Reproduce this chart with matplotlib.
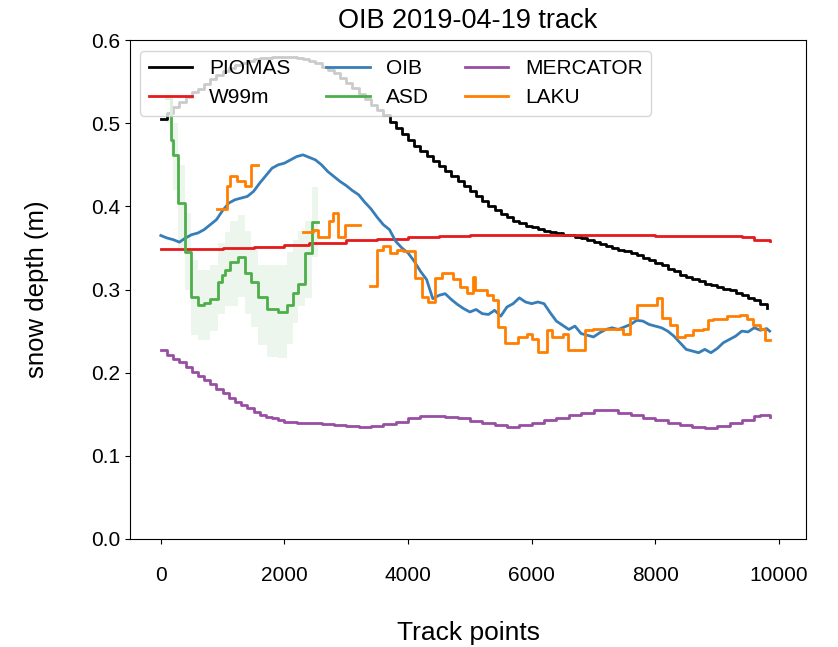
import numpy as np
from matplotlib import pyplot as plt

plt.rcParams['font.family'] = ['Liberation Sans', 'DejaVu Sans']

# PIOMAS (stepped model output along track)
piomas_x = np.arange(0, 9900, 100)
piomas_y = [0.505, 0.512, 0.520, 0.526, 0.532, 0.537, 0.541, 0.547, 0.553, 0.558,
            0.563, 0.567, 0.570, 0.573, 0.575, 0.577, 0.578, 0.579, 0.580, 0.580,
            0.580, 0.580, 0.579, 0.577, 0.575, 0.572, 0.568, 0.564, 0.560, 0.554,
            0.548, 0.542, 0.535, 0.529, 0.522, 0.516, 0.510, 0.502, 0.494, 0.487,
            0.480, 0.473, 0.467, 0.461, 0.455, 0.449, 0.443, 0.436, 0.430, 0.424,
            0.418, 0.412, 0.406, 0.401, 0.396, 0.391, 0.387, 0.383, 0.380, 0.377,
            0.375, 0.373, 0.371, 0.369, 0.368, 0.366, 0.365, 0.363, 0.362, 0.359,
            0.357, 0.355, 0.352, 0.350, 0.348, 0.346, 0.344, 0.341, 0.338, 0.335,
            0.332, 0.329, 0.325, 0.322, 0.318, 0.315, 0.313, 0.310, 0.307, 0.305,
            0.303, 0.301, 0.299, 0.296, 0.293, 0.290, 0.287, 0.283, 0.278]

w99_x = [0, 500, 1000, 1500, 2000, 2400, 3000, 3500, 4000, 4500, 5000, 5500,
         6000, 6500, 7000, 7500, 8000, 8500, 9000, 9400, 9600, 9850]
w99_y = [0.349, 0.349, 0.350, 0.351, 0.353, 0.356, 0.359, 0.361, 0.363, 0.364,
         0.365, 0.366, 0.366, 0.366, 0.365, 0.365, 0.364, 0.364, 0.364, 0.363,
         0.360, 0.358]

oib_x = list(range(0, 9900, 100)) + [9850]
oib_y = [0.365, 0.362, 0.360, 0.357, 0.362, 0.366, 0.368, 0.372, 0.378, 0.384,
         0.395, 0.404, 0.408, 0.410, 0.412, 0.418, 0.428, 0.437, 0.446, 0.450,
         0.452, 0.456, 0.460, 0.462, 0.459, 0.456, 0.450, 0.442, 0.436, 0.430,
         0.425, 0.419, 0.414, 0.405, 0.397, 0.387, 0.378, 0.372, 0.358, 0.350,
         0.344, 0.334, 0.322, 0.312, 0.289, 0.293, 0.295, 0.288, 0.282, 0.277,
         0.273, 0.276, 0.271, 0.270, 0.275, 0.268, 0.279, 0.283, 0.290, 0.285,
         0.283, 0.285, 0.283, 0.272, 0.262, 0.257, 0.252, 0.256, 0.247, 0.245,
         0.243, 0.248, 0.252, 0.254, 0.252, 0.255, 0.258, 0.263, 0.262, 0.258,
         0.256, 0.254, 0.250, 0.244, 0.236, 0.228, 0.226, 0.224, 0.228, 0.224,
         0.229, 0.236, 0.240, 0.244, 0.250, 0.249, 0.254, 0.251, 0.253, 0.250]

asd_x = [80, 157, 200, 281, 388, 496, 604, 700, 793, 928, 990, 1036, 1117, 1251,
         1359, 1467, 1575, 1710, 1898, 2034, 2141, 2222, 2330, 2438, 2545]
asd_y = [0.530, 0.480, 0.462, 0.404, 0.345, 0.291, 0.281, 0.284, 0.289, 0.309,
         0.318, 0.323, 0.333, 0.339, 0.320, 0.309, 0.291, 0.277, 0.273, 0.281,
         0.296, 0.307, 0.344, 0.381, 0.381]
asd_lo = [0.500, 0.460, 0.420, 0.350, 0.300, 0.245, 0.239, 0.239, 0.250, 0.270,
          0.270, 0.280, 0.280, 0.291, 0.270, 0.255, 0.233, 0.219, 0.218, 0.235,
          0.260, 0.280, 0.290, 0.339, 0.339]
asd_hi = [0.545, 0.540, 0.500, 0.450, 0.392, 0.335, 0.323, 0.323, 0.330, 0.356,
          0.356, 0.369, 0.383, 0.390, 0.370, 0.350, 0.330, 0.330, 0.330, 0.345,
          0.360, 0.370, 0.383, 0.423, 0.423]

merc_x = list(range(0, 2100, 100)) + list(range(2200, 9700, 200)) + [9700, 9850]
merc_y = [0.227, 0.221, 0.217, 0.213, 0.207, 0.201, 0.196, 0.191, 0.186, 0.180,
          0.175, 0.170, 0.165, 0.161, 0.157, 0.153, 0.149, 0.147, 0.145, 0.143,
          0.141,
          0.140, 0.139, 0.138, 0.137, 0.136, 0.135, 0.136, 0.138, 0.141, 0.145,
          0.148, 0.148, 0.147, 0.145, 0.142, 0.140, 0.137, 0.135, 0.137, 0.140,
          0.143, 0.146, 0.149, 0.152, 0.155, 0.155, 0.152, 0.149, 0.146, 0.143,
          0.140, 0.137, 0.135, 0.134, 0.136, 0.139, 0.143, 0.148,
          0.149, 0.147]

nan = np.nan
laku_x = [911, 1063, 1117, 1225, 1359, 1467, 1575,
          2303, 2465, 2545, 2724, 2789, 2870, 2977, 3220,
          3382, 3490, 3598, 3706, 3814, 3921, 4110, 4218, 4326, 4434, 4542, 4730,
          4838, 4946, 5054, 5081, 5270, 5378, 5459, 5566, 5782, 5917, 5998, 6105,
          6241, 6322, 6510, 6591, 6861, 6996, 7481, 7589, 7697, 8021, 8102, 8236,
          8344, 8479, 8614, 8775, 8856, 8937, 9153, 9369, 9477, 9584, 9692, 9773,
          9854]
laku_y = [0.397, 0.424, 0.437, 0.430, 0.425, 0.450, nan,
          0.369, 0.372, 0.363, 0.383, 0.392, 0.363, 0.378, nan,
          0.304, 0.347, 0.352, 0.344, 0.347, 0.346, 0.314, 0.291, 0.285, 0.314,
          0.320, 0.313, 0.303, 0.296, 0.315, 0.299, 0.293, 0.287, 0.255, 0.236,
          0.243, 0.246, 0.240, 0.225, 0.251, 0.243, 0.246, 0.227, 0.251, 0.253,
          0.246, 0.266, 0.281, 0.290, 0.266, 0.257, 0.243, 0.245, 0.251, 0.253,
          0.263, 0.265, 0.268, 0.269, 0.265, 0.257, 0.253, 0.239, 0.239]

plt.figure(figsize=(8.38, 6.47), dpi=100)
ax = plt.axes([0.155, 0.167, 0.807, 0.771])

ax.plot(piomas_x, piomas_y, color='black', lw=2, drawstyle='steps-post', label='PIOMAS')
ax.plot(w99_x, w99_y, color='#e41a1c', lw=2, drawstyle='steps-post', label='W99m')
ax.plot(oib_x, oib_y, color='#377eb8', lw=2, label='OIB')
ax.plot(asd_x, asd_y, color='#4daf4a', lw=2, drawstyle='steps-post', label='ASD')
ax.fill_between(asd_x, asd_lo, asd_hi, step='post', color='#4daf4a', alpha=0.1, lw=0)
ax.plot(merc_x, merc_y, color='#984ea3', lw=2, drawstyle='steps-post', label='MERCATOR')
ax.plot(laku_x, laku_y, color='#ff7f00', lw=2, drawstyle='steps-post', label='LAKU')

ax.set_xlim(-500, 10440)
ax.set_ylim(0, 0.6)
ax.set_xticks([0, 2000, 4000, 6000, 8000, 10000])
ax.set_yticks([0.0, 0.1, 0.2, 0.3, 0.4, 0.5, 0.6])
ax.tick_params(labelsize=15)
ax.tick_params(axis='x', pad=16)
ax.set_xlabel('Track points', fontsize=19, labelpad=26)
ax.set_ylabel('snow depth (m)', fontsize=18.5, labelpad=30)
ax.set_title('OIB 2019-04-19 track', fontsize=19.5, pad=9)
ax.legend(loc='upper left', ncol=3, fontsize=15, handlelength=2.1,
          columnspacing=1.7, borderaxespad=0.5)

plt.savefig('out.png', dpi=100)
